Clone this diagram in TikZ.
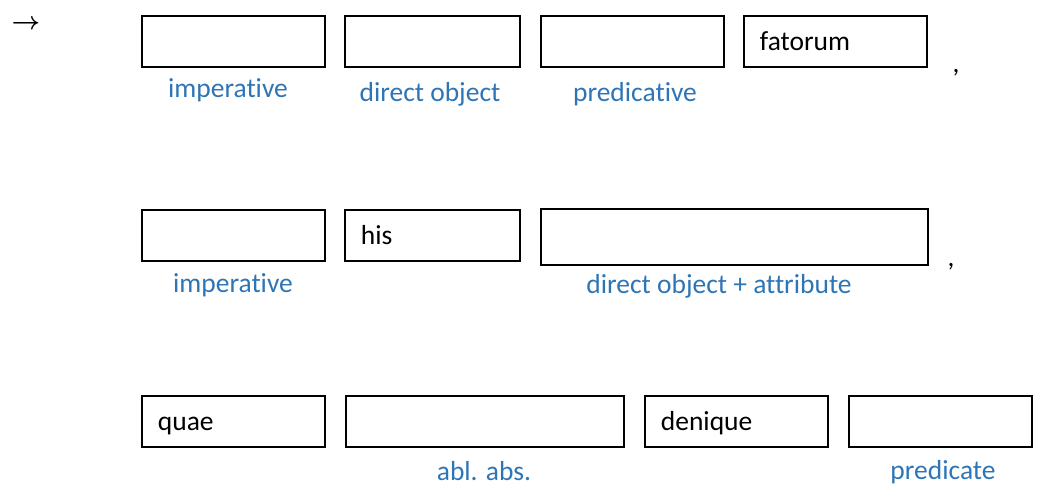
\documentclass[tikz,border=0pt]{standalone}
\usepackage{fontspec}
\setmainfont{Carlito}[Ligatures=NoCommon]
\definecolor{lblue}{HTML}{2E75B6}
\begin{document}
\begin{tikzpicture}[x=1pt,y=-1pt,
  wbox/.style={draw=black,line width=1.8pt,anchor=north west,inner ysep=0pt,inner xsep=16pt,
    text height=35pt,text depth=16pt,align=left,font=\fontsize{27.5}{33}\selectfont},
  lbl/.style={anchor=base,inner sep=0pt,text=lblue,font=\fontsize{27.5}{33}\selectfont},
  punct/.style={anchor=base,inner sep=0pt,font=\fontsize{27.5}{33}\selectfont}]
\useasboundingbox (0,0) rectangle (1053,485);
% arrow
\node[inner sep=0pt,font={\fontsize{28}{32}\selectfont\boldmath}] (arr) at (26,25) {$\rightarrow$};
% row 1
\node[wbox,text width=151pt] (r1a) at (141,15) {};
\node[wbox,text width=143pt] (r1b) at (344,15) {};
\node[wbox,text width=151pt] (r1c) at (540,15) {};
\node[wbox,text width=151pt] (r1d) at (743,15) {fatorum};
\node[punct] (c1) at (956,72) {,};
\node[lbl] (l1a) at (228,97) {imperative};
\node[lbl] (l1b) at (430,101) {direct object};
\node[lbl] (l1c) at (635,101) {predicative};
% row 2
\node[wbox,text width=151pt] (r2a) at (141,209) {};
\node[wbox,text width=143pt] (r2b) at (344,209) {his};
\node[wbox,text width=355pt,text depth=21pt] (r2c) at (540,208) {};
\node[punct] (c2) at (951,266) {,};
\node[lbl] (l2a) at (233,292) {imperative};
\node[lbl] (l2c) at (719,293) {direct object + attribute};
% row 3
\node[wbox,text width=151pt] (r3a) at (141,395) {quae};
\node[wbox,text width=246pt] (r3b) at (345,395) {};
\node[wbox,text width=151pt] (r3c) at (644,395) {denique};
\node[wbox,text width=151pt] (r3d) at (848,395) {};
\node[lbl] (l3b) at (484,480) {abl. abs.};
\node[lbl] (l3d) at (943,479) {predicate};
\end{tikzpicture}
\end{document}
